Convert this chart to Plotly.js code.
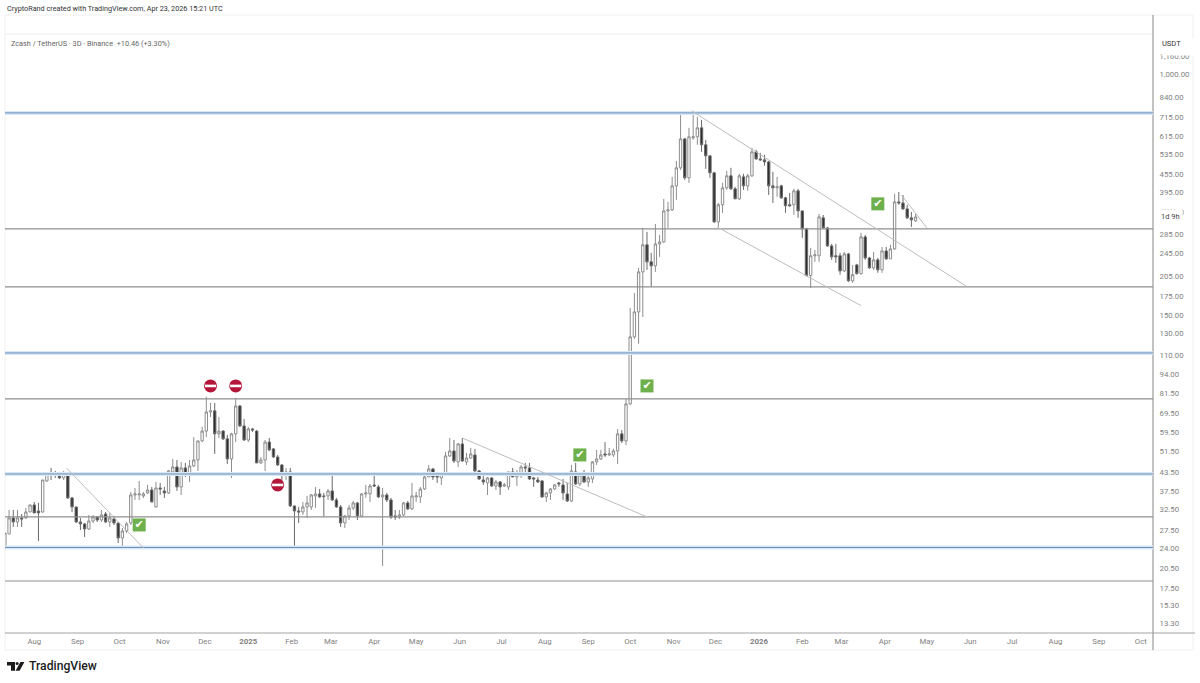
<!DOCTYPE html>
<html>
<head>
<meta charset="utf-8">
<script src="https://cdn.plot.ly/plotly-3.0.1.min.js"></script>
<style>html,body{margin:0;padding:0;background:#fff}#chart{width:1200px;height:683px}</style>
</head>
<body>
<div id="chart"></div>
<script>
// 3-day ZEC/USDT candles, first candle date and read-off prices
const firstCandle = '2024-07-11';
const openPrices = [
24.0,26.8,30.41,29.46,30.41,30.41,31.88,33.69,32.13,31.88,
40.7,43.35,43.35,43.01,41.68,43.01,35.6,33.16,29.46,29.0,
27.88,29.69,30.65,29.93,31.38,29.46,30.17,29.23,25.97,27.44,
29.23,36.45,36.45,36.17,37.03,37.91,33.16,38.51,37.62,37.03,
43.7,45.45,38.82,45.1,42.67,45.81,48.03,55.8,60.3,70.1,
70.7,59.0,60.3,56.7,48.41,59.0,73.5,62.8,56.2,61.3,
60.3,46.91,48.03,55.3,52.4,49.18,46.17,43.01,43.7,33.42,
32.13,31.88,33.16,33.16,36.17,36.74,36.17,36.17,37.62,35.04,
33.16,29.23,30.89,32.9,34.22,30.89,36.74,36.74,39.44,38.82,
35.88,36.45,35.04,30.89,30.65,31.14,34.22,32.64,35.88,35.88,
38.21,42.01,44.74,42.34,41.68,43.01,49.57,51.56,47.28,54.5,
47.28,48.79,49.96,44.04,41.02,40.07,41.68,39.13,40.38,39.13,
38.82,43.7,42.01,43.35,45.45,45.1,41.68,41.02,40.7,35.88,
37.03,38.21,40.07,39.44,36.74,34.77,43.7,39.75,42.34,40.38,
41.35,47.28,48.41,50.36,49.96,49.96,51.56,59.0,55.8,74.7,
126.7,154.2,211.4,261.8,228.8,221.7,263.5,267.9,341.9,344.6,
416.4,480,603,443.6,607.9,612.9,657.8,575.5,527.6,461.4,
313.5,358.8,410,450.7,406.7,375.9,447,416.4,450.7,544.5,
515,511.1,503,416.4,410,416.4,378.9,358.8,358.8,400.4,
341.9,296.7,205.4,240,240,323.6,299,259.4,240,240,
213,243.6,197,223.4,208.5,278.5,236,218.2,232.4,214.8,
249.4,234.2,253.4,367,364,347.3,323.6,316];
const highPrices = [
27.0,32.38,32.38,32.38,31.38,32.9,33.69,34.49,34.22,41.02,
43.7,45.1,44.04,43.7,44.04,43.35,35.88,33.16,30.41,29.23,
31.14,31.14,30.89,32.38,31.88,31.63,30.89,29.23,28.1,29.46,
37.33,38.51,40.7,37.33,39.44,38.82,40.38,40.07,38.82,44.39,
48.41,48.03,47.28,46.91,48.03,57.5,55.8,62.3,79.0,75.3,
75.3,67.4,60.8,58.5,59.5,78.3,74.1,66.4,62.3,61.8,
60.8,49.18,56.2,57.1,52.8,49.96,46.54,45.1,45.1,33.42,
33.16,34.49,36.17,36.74,38.82,38.21,37.03,38.21,43.35,35.6,
33.69,31.14,33.69,34.77,34.49,37.03,39.44,39.75,42.67,39.44,
38.51,37.03,35.6,32.38,32.38,34.49,34.77,40.07,37.33,38.82,
42.67,46.17,45.1,42.67,43.7,51.16,57.1,56.2,54.9,57.1,
50.76,52.8,52.4,44.39,42.67,42.01,42.01,41.02,40.7,40.07,
43.7,45.1,44.39,46.17,46.91,46.91,42.01,42.01,41.02,37.33,
38.51,39.75,40.38,41.35,40.07,46.17,46.91,43.7,44.39,42.67,
47.65,51.97,51.97,55.3,52.8,52.4,61.3,60.8,77.7,159.2,
178.9,218.2,299,289.8,245.5,308.5,283,375.9,367,447,
507,746,607.9,657.8,752,717.4,700.6,598.4,527.6,465,
364,426.5,468.7,480,413.3,458,458,458,561.9,553.1,
540,531.8,507,465,447,420,382,393.9,406.7,406.7,
341.9,299,255.5,251.4,334,331,301.4,263.5,263.5,245.5,
247.5,245.5,223.4,225.2,287.5,283,238,247.5,236,257.4,
257.4,261.8,391.3,397,387.5,358.8,339.2,334];
const lowPrices = [
23.6,26.8,28.32,28.32,28.32,30.17,31.88,31.63,25.36,31.63,
40.38,41.02,41.68,41.35,41.02,35.32,31.88,29.23,27.66,26.17,
27.66,29.23,29.46,29.46,29.23,28.32,28.77,24.96,24.38,27.01,
28.77,35.04,35.04,35.6,36.74,34.49,33.0,36.45,35.6,36.74,
43.35,37.62,36.45,42.01,40.38,45.45,44.04,55.3,57.5,67.4,
50.36,57.1,56.2,46.54,41.68,55.3,62.3,55.8,55.3,59.9,
46.91,46.54,44.04,51.56,48.79,45.81,41.02,41.02,33.16,24.38,
29.23,31.14,30.41,32.38,32.9,35.6,30.65,35.04,34.77,32.9,
28.32,28.1,29.93,32.38,29.93,30.65,35.6,34.49,38.82,35.6,
20.8,34.49,30.17,29.93,30.17,30.89,32.38,32.38,34.49,34.22,
37.91,42.01,41.02,40.07,39.44,42.67,49.18,46.91,45.45,47.28,
46.17,48.41,43.7,41.02,39.44,36.45,38.82,37.91,36.45,38.82,
37.91,42.01,39.13,41.68,42.67,41.02,38.82,40.07,35.6,34.49,
35.04,37.91,38.82,35.04,34.49,34.49,39.44,39.13,40.07,38.82,
40.07,46.17,48.03,49.18,49.57,49.18,46.54,54.9,54.0,74.1,
124.7,119.9,148.2,214.8,187.8,211.4,238,265.6,299,341.9,
372.9,472.4,436.6,426.5,598.4,575.5,544.5,476.1,443.6,311,
301.4,336.6,403.5,403.5,375.9,372.9,403.5,400.4,447,511.1,
507,488,387.5,364,382,375.9,336.6,353,331,323.6,
276.4,203.8,186,228.8,228.8,296.7,257.4,232.4,226.9,206.9,
211.4,195.4,193.9,206.9,206.9,232.4,216.5,214.8,209.8,209.8,
232.4,234.2,251.4,358.8,344.6,321,301.4,313.5];
const closePrices = [
27.0,30.41,29.46,30.41,30.17,31.88,33.69,31.63,31.63,41.02,
43.35,43.01,43.01,41.68,43.01,35.6,33.16,29.46,29.0,27.88,
29.69,30.65,29.93,31.14,29.46,30.41,29.23,25.97,27.44,29.0,
36.45,36.74,36.74,36.74,37.91,34.49,38.51,38.21,37.03,44.04,
45.45,38.82,45.1,42.67,45.81,48.03,55.8,60.3,70.1,70.7,
59.0,60.3,56.7,48.41,59.0,73.5,62.8,56.2,61.3,60.8,
46.91,48.03,55.3,51.97,49.18,46.17,43.35,43.7,33.42,32.13,
31.88,33.16,34.22,36.45,36.74,35.88,36.0,37.62,35.04,33.16,
29.23,30.89,32.9,34.22,30.89,36.74,37.03,39.13,39.13,35.88,
36.45,35.04,30.65,30.65,31.14,34.22,32.64,36.17,36.17,38.21,
42.01,44.74,42.01,42.01,43.35,49.57,51.56,47.65,54.5,47.65,
48.79,50.36,44.04,41.35,40.38,41.68,39.13,40.38,38.82,39.44,
43.7,42.01,43.35,45.45,45.1,41.35,41.35,40.38,35.88,37.03,
38.21,39.44,39.75,37.03,34.77,44.04,39.75,42.67,40.38,41.68,
47.28,48.41,49.96,49.96,50.36,51.56,59.0,55.8,74.7,126.7,
154.2,211.4,261.8,228.8,221.7,263.5,267.9,341.9,344.6,416.4,
480,603,443.6,612.9,612.9,657.8,575.5,527.6,461.4,313.5,
358.8,410,450.7,406.7,375.9,450.7,416.4,450.7,544.5,515,
511.1,503,416.4,410,413.3,378.9,355.9,355.9,400.4,341.9,
296.7,205.4,240,241.9,326,299,259.4,238,238,213,
243.6,197,206.9,208.5,278.5,236,218.2,232.4,214.8,249.4,
234.2,253.4,367,364,347.3,323.6,318.5,326];

const xStart = '2024-07-11T02:00', xEnd = '2026-10-09T17:00';
const blueLevels = [740, 111.6, 43.0, 24.1];
const greyLevels = [296.7, 187.8, 77.7, 30.65, 18.5];
const trendLines = [
  {x:['2024-08-24','2024-10-18'], y:[45.1,24.0]},
  {x:['2025-06-03','2025-10-13'], y:[57.1,30.65]},
  {x:['2025-11-14','2026-05-30'], y:[752,187.8]},
  {x:['2025-12-02','2026-03-15'], y:[301.4,162]},
  {x:['2026-04-13','2026-05-01'], y:[387.5,299]}
];
const stopDates = ['2024-12-05','2024-12-23','2025-01-22'];
const stopPrices = [86.06,86.06,39.44];
const checkDates = ['2024-10-15','2025-08-26','2025-10-13','2026-03-27'];
const checkPrices = [28.77,49.96,86.06,361.3];

const priceTicks = [1160,1000,840,715,615,535,455,395,285,245,205,175,150,130,110,94,81.5,69.5,59.5,51.5,43.5,37.5,32.5,27.5,24,20.5,17.5,15.3,13.3];
const priceLabels = ['1,160.00','1,000.00','840.00','715.00','615.00','535.00','455.00','395.00','285.00','245.00','205.00','175.00','150.00','130.00','110.00','94.00','81.50','69.50','59.50','51.50','43.50','37.50','32.50','27.50','24.00','20.50','17.50','15.30','13.30'];
const monthTicks = ['2024-08-01','2024-09-01','2024-10-01','2024-11-01','2024-12-01','2025-01-01','2025-02-01','2025-03-01','2025-04-01','2025-05-01','2025-06-01','2025-07-01','2025-08-01','2025-09-01','2025-10-01','2025-11-01','2025-12-01','2026-01-01','2026-02-01','2026-03-01','2026-04-01','2026-05-01','2026-06-01','2026-07-01','2026-08-01','2026-09-01','2026-10-01'];
const monthLabels = ['Aug','Sep','Oct','Nov','Dec','<b>2025</b>','Feb','Mar','Apr','May','Jun','Jul','Aug','Sep','Oct','Nov','Dec','<b>2026</b>','Feb','Mar','Apr','May','Jun','Jul','Aug','Sep','Oct'];

const dates = openPrices.map((_, i) => {
  const d = new Date(firstCandle + 'T00:00:00Z');
  d.setUTCDate(d.getUTCDate() + 3 * i);
  return d.toISOString().slice(0, 10);
});

const FONT = 'Roboto, "Liberation Sans", sans-serif';
const W = 1200, H = 683, L = 5, R = 1153, T = 34, B = 633;
const px = x => (x - L) / (R - L);
const py = y => (B - y) / (B - T);

const traces = [];
blueLevels.forEach(v => {
  traces.push({type:'scatter', mode:'lines', x:[xStart,xEnd], y:[v,v], line:{color:'#d9e8f7', width:4}, hoverinfo:'skip', showlegend:false});
  traces.push({type:'scatter', mode:'lines', x:[xStart,xEnd], y:[v,v], line:{color:'#6a8cb3', width:1}, hoverinfo:'skip', showlegend:false});
});
greyLevels.forEach(v => {
  traces.push({type:'scatter', mode:'lines', x:[xStart,xEnd], y:[v,v], line:{color:'#8f8f8f', width:1.2}, hoverinfo:'skip', showlegend:false});
});
trendLines.forEach(t => {
  traces.push({type:'scatter', mode:'lines', x:t.x, y:t.y, line:{color:'#bdbdbd', width:1}, hoverinfo:'skip', showlegend:false});
});
traces.push({
  type:'candlestick', x:dates, open:openPrices, high:highPrices, low:lowPrices, close:closePrices,
  increasing:{line:{color:'#8e8e8e', width:1}, fillcolor:'#ffffff'},
  decreasing:{line:{color:'#6a6a6a', width:1}, fillcolor:'#2e2e2e'},
  whiskerwidth:0, hoverinfo:'skip', showlegend:false
});
traces.push({type:'scatter', mode:'markers', x:stopDates, y:stopPrices, marker:{symbol:'circle', size:13, color:'#b5173a'}, hoverinfo:'skip', showlegend:false});
traces.push({type:'scatter', mode:'markers', x:stopDates, y:stopPrices, marker:{symbol:'line-ew', size:8, line:{color:'#ffffff', width:2.6}}, hoverinfo:'skip', showlegend:false});
traces.push({type:'scatter', mode:'markers+text', x:checkDates, y:checkPrices, marker:{symbol:'square', size:13, color:'#6eb04c'}, text:checkDates.map(() => '✔'), textposition:'middle center', textfont:{family:'"DejaVu Sans"', size:11, color:'#ffffff'}, hoverinfo:'skip', showlegend:false});

const frame = (x0, y0, x1, y1, color, width) => ({type:'line', xref:'paper', yref:'paper', x0:px(x0), y0:py(y0), x1:px(x1), y1:py(y1), line:{color, width: width || 1}, layer:'below'});

const shapes = [
  frame(5, 15, 1193, 15, '#f0f0f0'),
  frame(5, 34, 1153, 34, '#ededed'),
  frame(5, 15, 5, 650, '#f0f0f0'),
  frame(1193, 15, 1193, 650, '#f0f0f0'),
  frame(5, 650, 1193, 650, '#f0f0f0'),
  frame(5, 633, 1195, 633, '#a3a3a3', 1.2),
  frame(1153, 15, 1153, 650, '#9a9a9a', 1.2),
  // TradingView mark
  {type:'path', xref:'paper', yref:'paper', fillcolor:'#1c1c1c', line:{width:0},
   path:`M${px(7)},${py(662)} L${px(15)},${py(662)} L${px(15)},${py(670.7)} L${px(11)},${py(670.7)} L${px(11)},${py(665.4)} L${px(7)},${py(665.4)} Z`},
  {type:'circle', xref:'paper', yref:'paper', fillcolor:'#1c1c1c', line:{width:0}, x0:px(15.6), x1:px(18.6), y0:py(662), y1:py(665)},
  {type:'path', xref:'paper', yref:'paper', fillcolor:'#1c1c1c', line:{width:0},
   path:`M${px(20.4)},${py(662)} L${px(24.4)},${py(662)} L${px(19.6)},${py(670.7)} L${px(15.6)},${py(670.7)} Z`}
];

const note = (text, x, y, size, color, extra) => Object.assign({
  text, xref:'paper', yref:'paper', x:px(x), y:py(y), xanchor:'left', yanchor:'middle',
  showarrow:false, font:{family:FONT, size, color}, borderpad:0
}, extra || {});

const annotations = [
  note('CryptoRand created with TradingView.com, Apr 23, 2026 15:21 UTC', 6, 8.5, 7.25, '#333333'),
  note('Zcash / TetherUS · 3D · Binance  +10.46 (+3.30%)', 10, 43.5, 7.3, '#666666'),
  note('USDT', 1161, 46.75, 7.5, '#333333', {bgcolor:'#ffffff', width:32, height:16, align:'left', valign:'top'}),
  note('1d 9h', 1160, 216.5, 7.5, '#444444'),
  note('- - - - -', 1160, 208.5, 6, '#999999'),
  note(')', 1181, 212, 6, '#777777'),
  note('TradingView', 27.5, 666, 12.2, '#1c1c1c', {font:{family:FONT, size:12.2, color:'#1c1c1c', weight:500}})
];

const layout = {
  width:W, height:H, paper_bgcolor:'#ffffff', plot_bgcolor:'#ffffff',
  margin:{l:L, r:W-R, t:T, b:H-B, pad:0}, showlegend:false, dragmode:false,
  font:{family:FONT, size:8, color:'#777777'}, boxgap:0.2,
  xaxis:{type:'date', range:[xStart,xEnd], tickmode:'array', tickvals:monthTicks, ticktext:monthLabels, tickangle:0,
    showgrid:false, zeroline:false, showline:false, ticks:'outside', ticklen:1, tickcolor:'rgba(0,0,0,0)',
    tickfont:{family:FONT, size:7.8, color:'#7f7f7f'}, rangeslider:{visible:false}, automargin:false},
  yaxis:{type:'log', side:'right', range:[Math.log10(12.28), Math.log10(1378)], tickmode:'array', tickvals:priceTicks, ticktext:priceLabels,
    showgrid:false, zeroline:false, showline:false, ticks:'outside', ticklen:4, tickcolor:'rgba(0,0,0,0)',
    tickfont:{family:FONT, size:7.8, color:'#7f7f7f'}, automargin:false},
  shapes, annotations
};

Plotly.newPlot('chart', traces, layout, {staticPlot:true, displayModeBar:false});
</script>
</body>
</html>
